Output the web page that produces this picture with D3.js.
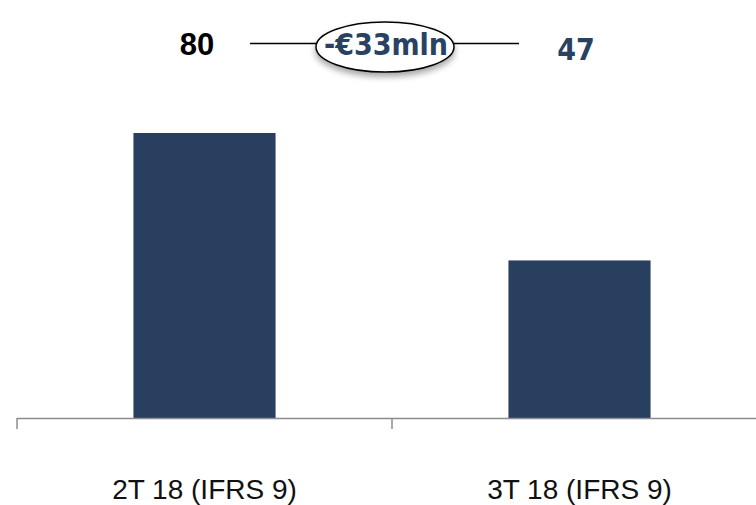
<!DOCTYPE html>
<html>
<head>
<meta charset="utf-8">
<script src="https://cdn.jsdelivr.net/npm/d3@7"></script>
<style>
  html, body { margin: 0; padding: 0; background: #fff; }
  svg { display: block; }
</style>
</head>
<body>
<div id="chart"></div>
<script>
// ---- data ----
const categories = ["2T 18 (IFRS 9)", "3T 18 (IFRS 9)"];
const values = [80, 47];
const deltaLabel = "-€" + Math.abs(values[1] - values[0]) + "mln";
const yDomainMin = 6.2;

// ---- layout ----
const W = 756, H = 505;
const baseY = 418;
const svg = d3.select("#chart").append("svg").attr("width", W).attr("height", H);

const defs = svg.append("defs");
const f = defs.append("filter").attr("id", "shadow").attr("x", "-20%").attr("y", "-20%").attr("width", "140%").attr("height", "160%");
f.append("feDropShadow").attr("dx", 0).attr("dy", 4).attr("stdDeviation", 3).attr("flood-color", "#000").attr("flood-opacity", 0.35);

const xOuter = d3.scaleBand().domain(categories).range([17, 767]).padding(0);
const x = d3.scaleBand().domain(categories).range([17, 767]).paddingInner(0.621).paddingOuter(0.3105);
const y = d3.scaleLinear().domain([yDomainMin, d3.max(values)]).range([baseY, 133]);

// bars
svg.selectAll("rect.bar").data(values).join("rect")
  .attr("class", "bar")
  .attr("x", (d, i) => x(categories[i]))
  .attr("width", x.bandwidth())
  .attr("y", d => y(d))
  .attr("height", d => baseY - y(d))
  .attr("fill", "#283f5f");

// axis line & ticks
const tickXs = categories.map(c => xOuter(c)).concat([xOuter.range()[1]]);
svg.append("line").attr("x1", xOuter.range()[0]).attr("x2", xOuter.range()[1])
  .attr("y1", baseY + 0.5).attr("y2", baseY + 0.5)
  .attr("stroke", "#8c8c8c").attr("stroke-width", 1.5);
svg.selectAll("line.tick").data(tickXs).join("line")
  .attr("class", "tick")
  .attr("x1", d => d).attr("x2", d => d)
  .attr("y1", baseY).attr("y2", baseY + 11)
  .attr("stroke", "#8c8c8c").attr("stroke-width", 1.5);

// category labels
svg.selectAll("text.cat").data(categories).join("text")
  .attr("class", "cat")
  .attr("x", d => x(d) + x.bandwidth() / 2)
  .attr("y", 499)
  .attr("text-anchor", "middle")
  .attr("font-family", "Liberation Sans, Arial, sans-serif")
  .attr("font-size", 28)
  .attr("fill", "#111")
  .text(d => d);

// top annotation
const cx = 385, cy = 47;
svg.append("line").attr("x1", 250).attr("x2", 316).attr("y1", 43.5).attr("y2", 43.5).attr("stroke", "#000").attr("stroke-width", 1.5);
svg.append("line").attr("x1", 454).attr("x2", 519).attr("y1", 43.5).attr("y2", 43.5).attr("stroke", "#000").attr("stroke-width", 1.5);
svg.append("ellipse").attr("cx", cx).attr("cy", cy).attr("rx", 69).attr("ry", 25)
  .attr("fill", "#fff").attr("stroke", "#000").attr("stroke-width", 1.5)
  .attr("filter", "url(#shadow)");
svg.append("text").attr("x", cx + 1).attr("y", 55)
  .attr("text-anchor", "middle")
  .attr("font-family", "DejaVu Sans Condensed, DejaVu Sans, sans-serif")
  .attr("font-weight", "bold").attr("font-size", 30)
  .attr("fill", "#2a4262")
  .text(deltaLabel);

svg.append("text").attr("x", 197).attr("y", 55)
  .attr("text-anchor", "middle")
  .attr("font-family", "Liberation Sans, Arial, sans-serif")
  .attr("font-weight", "bold").attr("font-size", 31)
  .attr("fill", "#000")
  .text(values[0]);
svg.append("text").attr("x", 576).attr("y", 60)
  .attr("text-anchor", "middle")
  .attr("font-family", "DejaVu Sans Condensed, DejaVu Sans, sans-serif")
  .attr("font-weight", "bold").attr("font-size", 30)
  .attr("fill", "#2a4262")
  .text(values[1]);
</script>
</body>
</html>
